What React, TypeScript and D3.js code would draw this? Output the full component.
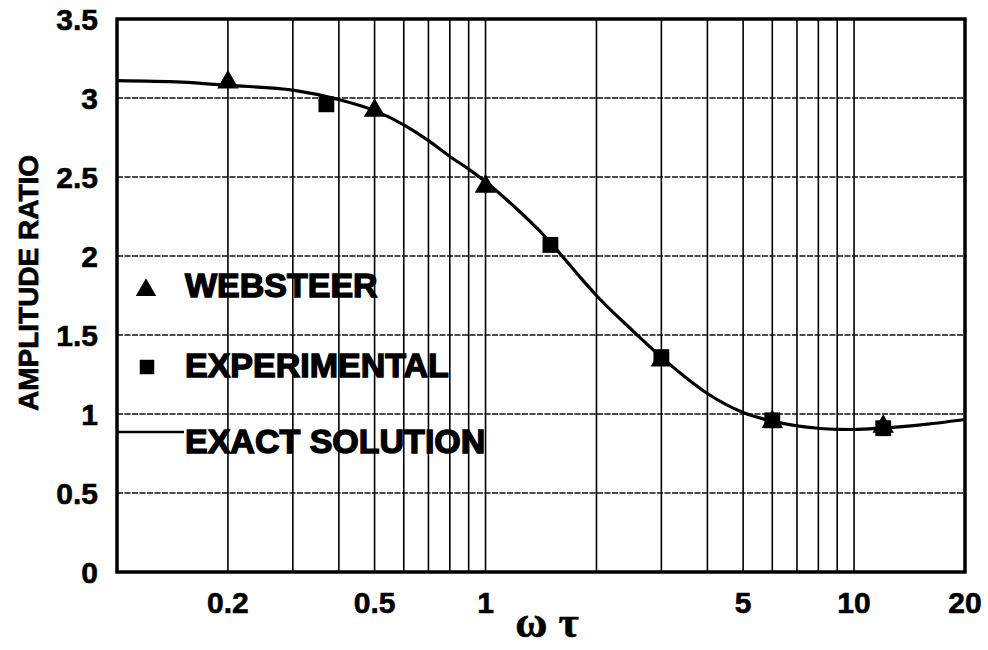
import React, { useEffect, useRef } from 'react';
import * as d3 from 'd3';

// exact solution curve (omega*tau, amplitude ratio)
const exactX = [0.1, 0.15, 0.2, 0.3, 0.4, 0.5, 0.6, 0.7, 0.8, 0.9, 1.0, 1.2, 1.4, 1.6, 1.8, 2.0, 2.5, 3.0, 3.5, 4.0, 5.0, 6.0, 7.0, 8.0, 9.0, 10, 12, 15, 20];
const exactY = [3.11, 3.1, 3.08, 3.05, 2.99, 2.92, 2.83, 2.73, 2.63, 2.55, 2.47, 2.31, 2.16, 2.01, 1.87, 1.75, 1.53, 1.36, 1.23, 1.13, 1.01, 0.955, 0.925, 0.91, 0.903, 0.902, 0.912, 0.93, 0.965];

// Websteer points (triangles)
const websteerX = [0.2, 0.5, 1.0, 3.0, 6.0, 12];
const websteerY = [3.1, 2.92, 2.44, 1.34, 0.95, 0.92];

// Experimental points (squares)
const experimentalX = [0.37, 1.5, 3.0, 6.0, 12];
const experimentalY = [2.96, 2.07, 1.36, 0.96, 0.91];

const xTickLabels = [0.2, 0.5, 1, 5, 10, 20];
const yTicks = [0, 0.5, 1, 1.5, 2, 2.5, 3, 3.5];

const WIDTH = 988;
const HEIGHT = 650;

const Chart: React.FC = () => {
  const svgRef = useRef<SVGSVGElement>(null);

  useEffect(() => {
    if (!svgRef.current) return;
    const svg = d3.select(svgRef.current);
    svg.selectAll('*').remove();

    const left = 117, right = 965, top = 19, bottom = 572;

    const x = d3.scaleLog().domain([0.1, 20]).range([left, right]);
    const y = d3.scaleLinear().domain([0, 3.5]).range([bottom, top]);

    svg.append('rect').attr('width', WIDTH).attr('height', HEIGHT).attr('fill', '#fff');

    // vertical grid: 1..9 in each decade
    const vGrid: number[] = [];
    [0.1, 1, 10].forEach(dec => {
      for (let k = 1; k < 10; k++) {
        const v = dec * k;
        if (v > 0.1 && v < 20) vGrid.push(v);
      }
    });
    svg.append('g')
      .selectAll('line')
      .data(vGrid)
      .enter()
      .append('line')
      .attr('x1', d => x(d))
      .attr('x2', d => x(d))
      .attr('y1', top)
      .attr('y2', bottom)
      .attr('stroke', '#000')
      .attr('stroke-width', 1.6);

    // horizontal grid (dotted in the scan)
    svg.append('g')
      .selectAll('line')
      .data(yTicks.filter(v => v > 0 && v < 3.5))
      .enter()
      .append('line')
      .attr('x1', left)
      .attr('x2', right)
      .attr('y1', d => y(d))
      .attr('y2', d => y(d))
      .attr('stroke', '#111')
      .attr('stroke-width', 1.5)
      .attr('stroke-dasharray', '6 1.5');

    // exact solution
    const pts: [number, number][] = exactX.map((v, i) => [v, exactY[i]]);
    const line = d3.line<[number, number]>()
      .x(d => x(d[0]))
      .y(d => y(d[1]))
      .curve(d3.curveMonotoneX);
    svg.append('path')
      .datum(pts)
      .attr('d', line)
      .attr('fill', 'none')
      .attr('stroke', '#000')
      .attr('stroke-width', 3.2);

    // markers
    const square = d3.symbol().type(d3.symbolSquare).size(250);
    const tri = d3.symbol().type(d3.symbolTriangle).size(200);

    svg.append('g')
      .selectAll('path')
      .data(experimentalX.map((v, i) => [v, experimentalY[i]]))
      .enter()
      .append('path')
      .attr('d', square()!)
      .attr('transform', d => `translate(${x(d[0])},${y(d[1])})`)
      .attr('fill', '#000');

    svg.append('g')
      .selectAll('path')
      .data(websteerX.map((v, i) => [v, websteerY[i]]))
      .enter()
      .append('path')
      .attr('d', tri()!)
      .attr('transform', d => `translate(${x(d[0])},${y(d[1])})`)
      .attr('fill', '#000');

    // frame
    svg.append('rect')
      .attr('x', left)
      .attr('y', top)
      .attr('width', right - left)
      .attr('height', bottom - top)
      .attr('fill', 'none')
      .attr('stroke', '#000')
      .attr('stroke-width', 3.5);

    const font = "'Liberation Sans', Arial, sans-serif";

    // y tick labels
    svg.append('g')
      .selectAll('text')
      .data(yTicks)
      .enter()
      .append('text')
      .attr('x', 98)
      .attr('y', d => y(d))
      .attr('dy', '0.36em')
      .attr('text-anchor', 'end')
      .style('font-family', font)
      .style('font-weight', 'bold')
      .style('font-size', '30px')
      .style('stroke', '#000')
      .style('stroke-width', 0.6)
      .text(d => String(d));

    // x tick labels
    svg.append('g')
      .selectAll('text')
      .data(xTickLabels)
      .enter()
      .append('text')
      .attr('x', d => x(d))
      .attr('y', 613)
      .attr('text-anchor', 'middle')
      .style('font-family', font)
      .style('font-weight', 'bold')
      .style('font-size', '30px')
      .style('stroke', '#000')
      .style('stroke-width', 0.6)
      .text(d => String(d));

    // axis titles
    svg.append('text')
      .attr('transform', 'translate(38,283) rotate(-90)')
      .attr('text-anchor', 'middle')
      .style('font-family', font)
      .style('font-weight', 'bold')
      .style('font-size', '28px')
      .style('stroke', '#000')
      .style('stroke-width', 0.7)
      .text('AMPLITUDE RATIO');

    svg.append('text')
      .attr('x', 547)
      .attr('y', 637)
      .attr('text-anchor', 'middle')
      .style('font-family', "'Liberation Serif', 'DejaVu Serif', serif")
      .style('font-weight', 'bold')
      .style('font-size', '44px')
      .style('stroke', '#000')
      .style('stroke-width', 0.6)
      .text('ω τ');

    // legend
    const lg = svg.append('g');
    lg.append('path')
      .attr('d', d3.symbol().type(d3.symbolTriangle).size(180)()!)
      .attr('transform', 'translate(146,290)')
      .attr('fill', '#000');
    lg.append('path')
      .attr('d', d3.symbol().type(d3.symbolSquare).size(210)()!)
      .attr('transform', 'translate(147,367)')
      .attr('fill', '#000');
    lg.append('line')
      .attr('x1', left)
      .attr('x2', 184)
      .attr('y1', 432)
      .attr('y2', 432)
      .attr('stroke', '#000')
      .attr('stroke-width', 2.5);

    const legendText = [
      { label: 'WEBSTEER', yy: 297 },
      { label: 'EXPERIMENTAL', yy: 377 },
      { label: 'EXACT SOLUTION', yy: 453 },
    ];
    lg.selectAll('text.lbl')
      .data(legendText)
      .enter()
      .append('text')
      .attr('class', 'lbl')
      .attr('x', 185)
      .attr('y', d => d.yy)
      .style('font-family', font)
      .style('font-weight', 'bold')
      .style('font-size', '34px')
      .style('stroke', '#000')
      .style('stroke-width', 1.4)
      .text(d => d.label);
  }, []);

  return <svg ref={svgRef} width={WIDTH} height={HEIGHT} style={{ position: 'absolute', left: 0, top: 0 }} />;
};

export default function App() {
  return <Chart />;
}
